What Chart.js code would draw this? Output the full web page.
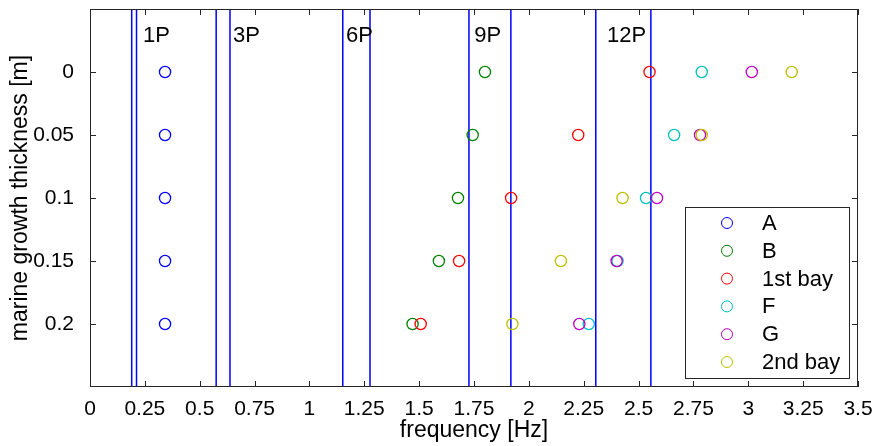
<!DOCTYPE html>
<html>
<head>
<meta charset="utf-8">
<script src="https://cdn.jsdelivr.net/npm/chart.js@4"></script>
<style>
  html, body { margin: 0; padding: 0; background: #fff; }
  #wrap { width: 877px; height: 446px; }
</style>
</head>
<body>
<div id="wrap"><canvas id="chart" width="877" height="446"></canvas></div>
<script>
// marine growth thickness [m] (y) for each measured row
const thickness = [0, 0.05, 0.1, 0.15, 0.2];

// frequencies [Hz] per series, one per thickness row
const freqA      = [0.342, 0.342, 0.342, 0.342, 0.342];
const freqB      = [1.800, 1.744, 1.677, 1.590, 1.470];
const freq1stBay = [2.550, 2.225, 1.919, 1.682, 1.507];
const freqF      = [2.788, 2.662, 2.534, 2.404, 2.273];
const freqG      = [3.016, 2.780, 2.584, 2.400, 2.230];
const freq2ndBay = [3.198, 2.788, 2.427, 2.146, 1.925];

const seriesNames = ['A', 'B', '1st bay', 'F', 'G', '2nd bay'];
const seriesColors = ['#0000ff', '#008000', '#ff0000', '#00bfbf', '#bf00bf', '#bfbf00'];

// rotor harmonic bands (vertical lines) [Hz]
const harmonicLines = [0.19, 0.212, 0.575, 0.638, 1.152, 1.276, 1.727, 1.918, 2.305, 2.556];
const harmonicLabels = ['1P', '3P', '6P', '9P', '12P'];
const harmonicLabelX = [0.242, 0.652, 1.167, 1.751, 2.356];
const harmonicLabelY = -0.029;

const xTicks = [0, 0.25, 0.5, 0.75, 1, 1.25, 1.5, 1.75, 2, 2.25, 2.5, 2.75, 3, 3.25, 3.5];
const yTicks = [0, 0.05, 0.1, 0.15, 0.2];

const FONT = "'Liberation Sans', Arial, sans-serif";

const allFreqs = [freqA, freqB, freq1stBay, freqF, freqG, freq2ndBay];

const datasets = [];
harmonicLines.forEach(v => {
  datasets.push({
    type: 'line',
    data: [{ x: v, y: -0.05 }, { x: v, y: 0.25 }],
    borderColor: '#0000ff',
    borderWidth: 1.5,
    pointRadius: 0,
    fill: false,
    order: 100,
    isHarmonic: true
  });
});
allFreqs.forEach((f, i) => {
  datasets.push({
    type: 'scatter',
    label: seriesNames[i],
    data: f.map((x, k) => ({ x: x, y: thickness[k] })),
    borderColor: seriesColors[i],
    backgroundColor: 'rgba(0,0,0,0)',
    pointStyle: 'circle',
    pointRadius: 5.6,
    pointBorderWidth: 1.3,
    order: 6 - i
  });
});

const framePlugin = {
  id: 'frame',
  afterDatasetsDraw(chart) {
    const ctx = chart.ctx;
    const a = chart.chartArea;
    const xs = chart.scales.x, ys = chart.scales.y;

    // harmonic labels
    ctx.save();
    ctx.fillStyle = '#000';
    ctx.font = '22px ' + FONT;
    ctx.textBaseline = 'middle';
    ctx.textAlign = 'left';
    harmonicLabels.forEach((t, i) => {
      ctx.fillText(t, xs.getPixelForValue(harmonicLabelX[i]), ys.getPixelForValue(harmonicLabelY));
    });

    // axes box + inward ticks
    ctx.strokeStyle = '#262626';
    ctx.lineWidth = 1;
    ctx.strokeRect(a.left + 0.5, a.top + 0.5, a.right - a.left - 1, a.bottom - a.top - 1);
    ctx.beginPath();
    const tl = 6;
    xTicks.forEach(v => {
      const px = Math.round(xs.getPixelForValue(v)) + 0.5;
      ctx.moveTo(px, a.bottom); ctx.lineTo(px, a.bottom - tl);
      ctx.moveTo(px, a.top); ctx.lineTo(px, a.top + tl);
    });
    yTicks.forEach(v => {
      const py = Math.round(ys.getPixelForValue(v)) + 0.5;
      ctx.moveTo(a.left, py); ctx.lineTo(a.left + tl, py);
      ctx.moveTo(a.right, py); ctx.lineTo(a.right - tl, py);
    });
    ctx.stroke();

    // legend
    const w = 164, h = 171;
    const lx = a.right - 9 - w, ly = a.bottom - 9 - h;
    ctx.fillStyle = '#fff';
    ctx.fillRect(lx, ly, w, h);
    ctx.strokeStyle = '#262626';
    ctx.strokeRect(lx + 0.5, ly + 0.5, w, h);
    ctx.font = '22px ' + FONT;
    ctx.textBaseline = 'middle';
    chart.data.datasets.filter(d => !d.isHarmonic).forEach((d, i) => {
      const cy = ly + 16 + i * 27.8;
      ctx.beginPath();
      ctx.strokeStyle = d.borderColor;
      ctx.lineWidth = 1;
      ctx.arc(lx + 42, cy, 5.5, 0, Math.PI * 2);
      ctx.stroke();
      ctx.fillStyle = '#000';
      ctx.fillText(d.label, lx + 77, cy + 1);
    });
    ctx.restore();
  }
};

new Chart(document.getElementById('chart'), {
  type: 'scatter',
  data: { datasets: datasets },
  options: {
    responsive: false,
    animation: false,
    layout: { padding: { top: 9, right: 19, left: 0, bottom: 0 } },
    plugins: { legend: { display: false }, tooltip: { enabled: false } },
    scales: {
      x: {
        type: 'linear',
        min: 0, max: 3.5,
        afterBuildTicks: s => { s.ticks = xTicks.map(v => ({ value: v })); },
        afterFit: s => { s.height = 59; s.paddingLeft = 0; s.paddingRight = 0; },
        grid: { display: false },
        border: { display: false },
        ticks: {
          padding: 2,
          color: '#000',
          font: { family: FONT, size: 21 },
          maxRotation: 0,
          autoSkip: false,
          callback: v => String(Number(v.toFixed(2)))
        },
        title: {
          display: true,
          text: 'frequency [Hz]',
          color: '#000',
          font: { family: FONT, size: 23 },
          padding: { top: 0, bottom: 2 }
        }
      },
      y: {
        type: 'linear',
        reverse: true,
        min: -0.05, max: 0.25,
        afterBuildTicks: s => { s.ticks = yTicks.map(v => ({ value: v })); },
        afterFit: s => { s.width = 90; s.paddingTop = 0; s.paddingBottom = 0; },
        grid: { display: false },
        border: { display: false },
        ticks: {
          padding: 8,
          color: '#000',
          font: { family: FONT, size: 21 },
          autoSkip: false,
          callback: v => String(Number(v.toFixed(2)))
        },
        title: {
          display: true,
          text: 'marine growth thickness [m]',
          color: '#000',
          font: { family: FONT, size: 23 },
          padding: { top: 7, bottom: 0 }
        }
      }
    }
  },
  plugins: [framePlugin]
});
</script>
</body>
</html>
